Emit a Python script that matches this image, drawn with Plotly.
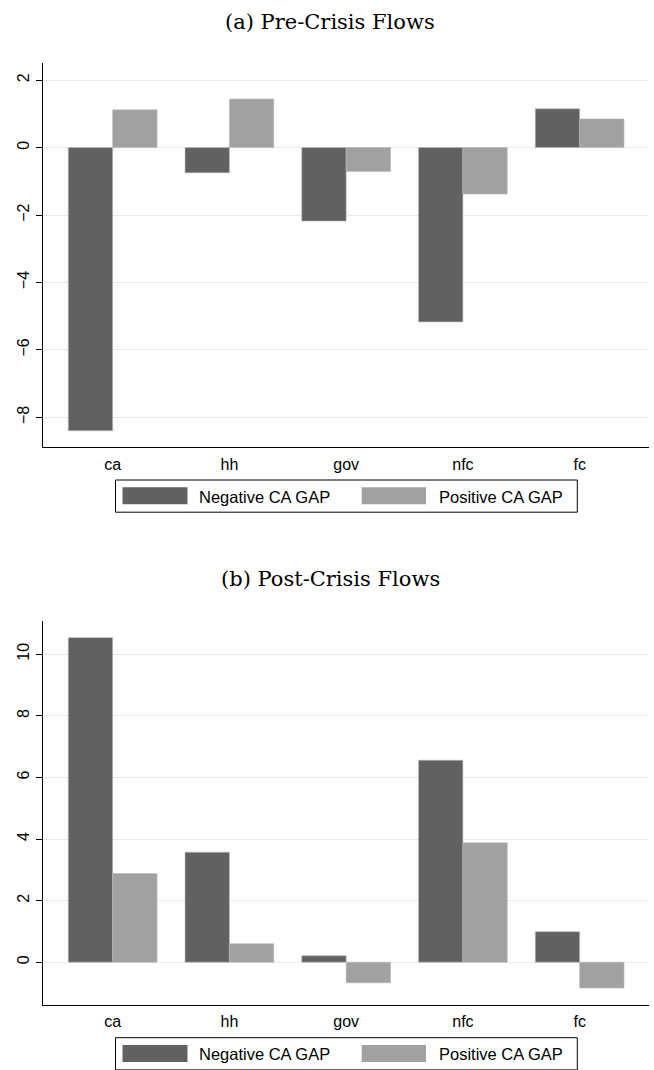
import plotly.graph_objects as go

W, H = 654, 1070

categories = ["ca", "hh", "gov", "nfc", "fc"]
series_names = ["Negative CA GAP", "Positive CA GAP"]
series_colors = ["#616161", "#a1a1a1"]

pre_negative = [-8.40, -0.75, -2.18, -5.17, 1.15]
pre_positive = [1.12, 1.44, -0.71, -1.38, 0.85]
post_negative = [10.54, 3.57, 0.21, 6.56, 0.99]
post_positive = [2.88, 0.60, -0.67, 3.88, -0.84]

pre_ticks = [-8, -6, -4, -2, 0, 2]
post_ticks = [0, 2, 4, 6, 8, 10]
titles = ["(a) Pre-Crisis Flows", "(b) Post-Crisis Flows"]

FONT = "Liberation Sans, Arial, sans-serif"
SERIF = "DejaVu Serif, serif"

def px_x(p):
    return p / W

def px_y(p):
    return 1 - p / H

def fmt(v):
    return str(v).replace("-", "\u2212")

fig = go.Figure()

panels = [
    (pre_negative, pre_positive, "x", "y"),
    (post_negative, post_positive, "x2", "y2"),
]
for neg, pos, xa, ya in panels:
    for vals, name, col in zip([neg, pos], series_names, series_colors):
        fig.add_trace(go.Bar(
            x=categories, y=vals, name=name, xaxis=xa, yaxis=ya,
            marker=dict(color=col, line=dict(width=0.6, color="#b8b8b8")),
            showlegend=False, offsetgroup=name,
        ))

# panel geometry (pixels)
off = 557.7
plot_left, plot_right = 43.3, 649
top0, bot0 = 63.3, 447.3

xdom = [px_x(plot_left), px_x(plot_right)]
common_x = dict(
    type="category", range=[-0.594, 4.594], showgrid=False, zeroline=False,
    showline=True, linecolor="black", linewidth=1,
    ticks="outside", ticklen=2, tickcolor="rgba(0,0,0,0)",
    tickfont=dict(family=FONT, size=16, color="black"),
)
common_y = dict(
    showgrid=True, gridcolor="#eaeaea", gridwidth=1.3, zeroline=False,
    showline=True, linecolor="black", linewidth=1,
    ticks="outside", ticklen=6.5, tickcolor="black", tickwidth=1,
    tickangle=-90, tickfont=dict(family=FONT, size=16, color="black"),
)

fig.update_layout(
    width=W, height=H, margin=dict(l=0, r=0, t=0, b=0),
    paper_bgcolor="white", plot_bgcolor="white",
    barmode="group", bargap=0.24, bargroupgap=0,
    showlegend=False,
    xaxis=dict(domain=xdom, anchor="y", **common_x),
    yaxis=dict(domain=[px_y(bot0), px_y(top0)], anchor="x", range=[-8.89, 2.50],
               tickvals=pre_ticks, ticktext=[fmt(v) for v in pre_ticks], **common_y),
    xaxis2=dict(domain=xdom, anchor="y2", **common_x),
    yaxis2=dict(domain=[px_y(bot0 + off), px_y(top0 + off)], anchor="x2", range=[-1.39, 11.08],
                tickvals=post_ticks, ticktext=[fmt(v) for v in post_ticks], **common_y),
)

shapes = []
annotations = []
for i, t in enumerate(titles):
    dy = off * i
    annotations.append(dict(
        text=t, x=px_x(330), y=px_y(21.7 + dy),
        xref="paper", yref="paper", xanchor="center", yanchor="middle",
        showarrow=False, font=dict(family=SERIF, size=21, color="black"),
    ))
    # legend box
    shapes.append(dict(type="rect", xref="paper", yref="paper",
                       x0=px_x(115.5), x1=px_x(577.3),
                       y0=px_y(512.2 + dy), y1=px_y(480 + dy),
                       line=dict(color="black", width=1), fillcolor="white"))
    sw = [(122.5, 187.5, 196.7), (361.7, 426.0, 436.7)]
    for (sx0, sx1, tx), name, col in zip(sw, series_names, series_colors):
        shapes.append(dict(type="rect", xref="paper", yref="paper",
                           x0=px_x(sx0), x1=px_x(sx1),
                           y0=px_y(504.3 + dy), y1=px_y(487.3 + dy),
                           line=dict(width=0), fillcolor=col))
        annotations.append(dict(
            text=name, x=px_x(tx), y=px_y(496.5 + dy), xref="paper", yref="paper",
            xanchor="left", yanchor="middle", showarrow=False,
            font=dict(family=FONT, size=16.5, color="black"),
        ))

fig.update_layout(shapes=shapes, annotations=annotations)
fig.write_html("out.html")
